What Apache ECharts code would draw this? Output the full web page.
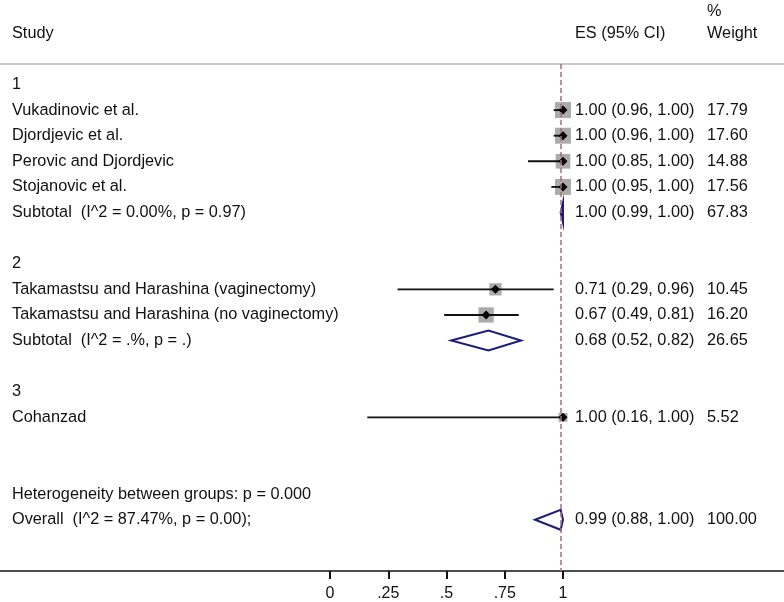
<!DOCTYPE html>
<html>
<head>
<meta charset="utf-8">
<script src="https://cdn.jsdelivr.net/npm/echarts@6/dist/echarts.min.js"></script>
<style>
  html, body { margin: 0; padding: 0; background: #fff; }
  #chart { width: 784px; height: 602px; }
</style>
</head>
<body>
<div id="chart"></div>
<script>
// study rows
const studyNames = [
  'Vukadinovic et al.',
  'Djordjevic et al.',
  'Perovic and Djordjevic',
  'Stojanovic et al.',
  'Takamastsu and Harashina (vaginectomy)',
  'Takamastsu and Harashina (no vaginectomy)',
  'Cohanzad'
]
const studyRows = [1, 2, 3, 4, 8, 9, 13]
const studyES = [1.00, 1.00, 1.00, 1.00, 0.71, 0.67, 1.00]
const studyLower = [0.96, 0.96, 0.85, 0.95, 0.29, 0.49, 0.16]
const studyUpper = [1.00, 1.00, 1.00, 1.00, 0.96, 0.81, 1.00]
const studyWeights = [17.79, 17.60, 14.88, 17.56, 10.45, 16.20, 5.52]

// pooled rows (subtotals + overall)
const poolNames = [
  'Subtotal  (I^2 = 0.00%, p = 0.97)',
  'Subtotal  (I^2 = .%, p = .)',
  'Overall  (I^2 = 87.47%, p = 0.00);'
]
const poolRows = [5, 10, 17]
const poolES = [1.00, 0.68, 0.99]
const poolLower = [0.99, 0.52, 0.88]
const poolUpper = [1.00, 0.82, 1.00]
const poolWeights = [67.83, 26.65, 100.00]

// plain text rows
const noteTexts = ['1', '2', '3', 'Heterogeneity between groups: p = 0.000']
const noteRows = [0, 7, 12, 16]

const overallES = 0.99
const tickValues = [0, 0.25, 0.5, 0.75, 1]
const tickLabels = ['0', '.25', '.5', '.75', '1']

const FONT = '"Liberation Sans", Arial, sans-serif'
const TXT = '#111'
const COL_LABEL = 12
const COL_ES = 575
const COL_W = 707

const txt = (x, y, s, extra) => ({
  type: 'text',
  style: Object.assign({
    x, y, text: s, fill: TXT,
    font: '16.3px ' + FONT,
    verticalAlign: 'middle', align: 'left'
  }, extra || {})
})

const fmtCI = (e, l, u) => `${e.toFixed(2)} (${l.toFixed(2)}, ${u.toFixed(2)})`

const chart = echarts.init(document.getElementById('chart'))

chart.setOption({
  animation: false,
  backgroundColor: '#fff',
  grid: { left: 0, right: 0, top: 0, bottom: 30 },
  xAxis: {
    type: 'value',
    min: -330 / 233,
    max: 454 / 233,
    splitLine: { show: false },
    axisLine: { onZero: false, lineStyle: { color: '#111', width: 1.5 } },
    axisTick: { show: true, customValues: tickValues, length: 8, lineStyle: { color: '#111', width: 2 } },
    axisLabel: {
      customValues: tickValues,
      margin: 15,
      color: TXT,
      fontSize: 16,
      fontFamily: FONT,
      formatter: v => tickLabels[tickValues.findIndex(t => Math.abs(t - v) < 1e-6)]
    }
  },
  yAxis: { type: 'value', inverse: true, min: -3.3, max: 19, show: false },
  series: [
    {
      // header rule + null line
      type: 'line',
      data: [],
      z: 1,
      markLine: {
        silent: true,
        symbol: 'none',
        label: { show: false },
        data: [
          { yAxis: -0.8, lineStyle: { color: '#c8c8c8', width: 2, type: 'solid' } },
          [
            { coord: [overallES, -0.8], lineStyle: { color: '#a86b7b', width: 1.5, type: [5, 3] } },
            { coord: [overallES, 19] }
          ]
        ]
      }
    },
    {
      // column headers
      type: 'custom',
      z: 3,
      data: [[0, -2]],
      renderItem: (params, api) => {
        const y = api.coord([0, -2])[1]
        const yp = api.coord([0, -2.85])[1]
        return {
          type: 'group',
          children: [
            txt(COL_LABEL, y, 'Study'),
            txt(COL_ES, y, 'ES (95% CI)'),
            txt(COL_W, yp, '%'),
            txt(COL_W, y, 'Weight')
          ]
        }
      }
    },
    {
      type: 'custom',
      z: 3,
      data: noteRows.map(r => [0, r]),
      renderItem: (params, api) => {
        const i = params.dataIndex
        const y = api.coord([0, noteRows[i]])[1]
        return txt(COL_LABEL, y, noteTexts[i])
      }
    },
    {
      type: 'custom',
      z: 3,
      data: studyES.map((e, i) => [e, studyRows[i]]),
      renderItem: (params, api) => {
        const i = params.dataIndex
        const r = studyRows[i]
        const pE = api.coord([studyES[i], r])
        const pL = api.coord([studyLower[i], r])
        const pU = api.coord([studyUpper[i], r])
        const y = pE[1]
        const side = 3.8 * Math.sqrt(studyWeights[i])
        const m = 4.5
        return {
          type: 'group',
          children: [
            { type: 'rect', shape: { x: pE[0] - side / 2, y: y - side / 2, width: side, height: side }, style: { fill: '#ababab' } },
            { type: 'line', shape: { x1: pL[0], y1: y, x2: pU[0], y2: y }, style: { stroke: '#111', lineWidth: 1.9 } },
            { type: 'polygon', shape: { points: [[pE[0] - m, y], [pE[0], y - m], [pE[0] + m, y], [pE[0], y + m]] }, style: { fill: '#000' } },
            txt(COL_LABEL, y, studyNames[i]),
            txt(COL_ES, y, fmtCI(studyES[i], studyLower[i], studyUpper[i])),
            txt(COL_W, y, studyWeights[i].toFixed(2))
          ]
        }
      }
    },
    {
      type: 'custom',
      z: 3,
      data: poolES.map((e, i) => [e, poolRows[i]]),
      renderItem: (params, api) => {
        const i = params.dataIndex
        const r = poolRows[i]
        const pE = api.coord([poolES[i], r])
        const pL = api.coord([poolLower[i], r])
        const pU = api.coord([poolUpper[i], r])
        const y = pE[1]
        const h = 10
        return {
          type: 'group',
          children: [
            {
              type: 'polygon',
              shape: { points: [[pL[0], y], [pE[0], y - h], [pU[0], y], [pE[0], y + h]] },
              style: { fill: 'none', stroke: '#1c1c78', lineWidth: 2, lineJoin: 'miter' }
            },
            txt(COL_LABEL, y, poolNames[i]),
            txt(COL_ES, y, fmtCI(poolES[i], poolLower[i], poolUpper[i])),
            txt(COL_W, y, poolWeights[i].toFixed(2))
          ]
        }
      }
    }
  ]
})

window.addEventListener('resize', () => chart.resize())
</script>
</body>
</html>
